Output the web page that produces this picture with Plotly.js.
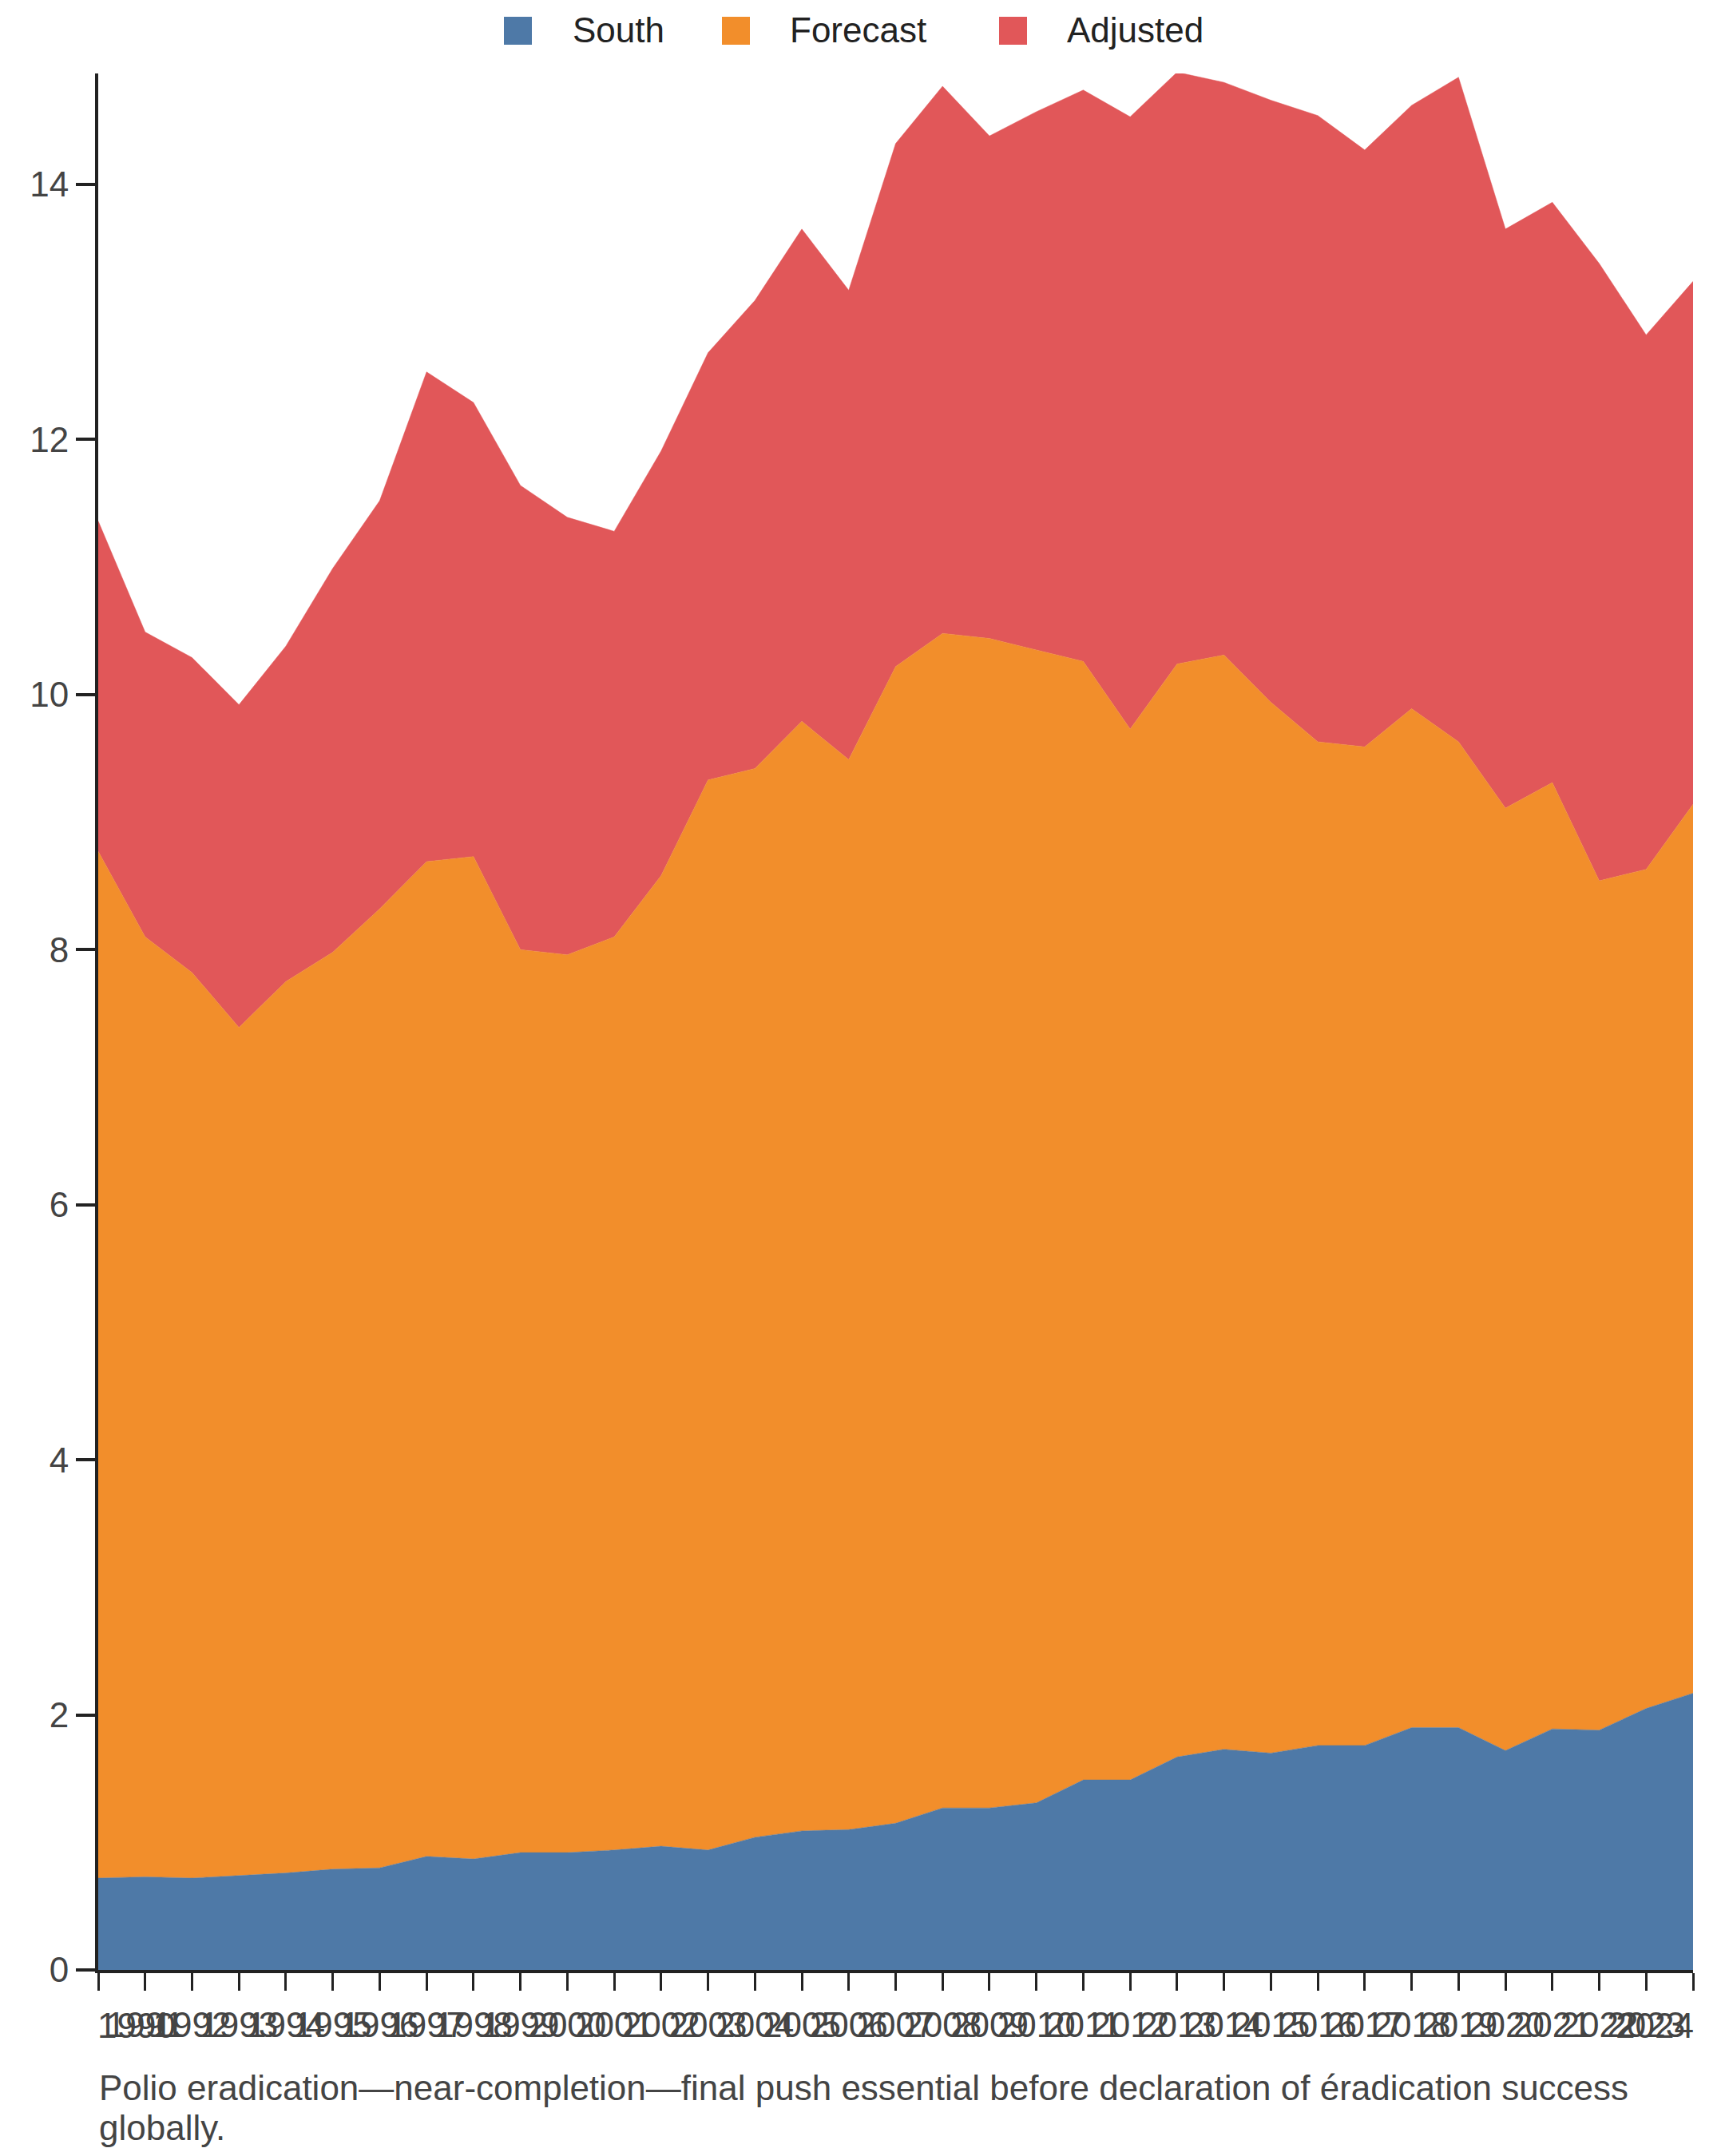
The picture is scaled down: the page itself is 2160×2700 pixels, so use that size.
<!DOCTYPE html>
<html>
<head>
<meta charset="utf-8">
<script src="https://cdn.plot.ly/plotly-3.0.1.min.js"></script>
<style>
  html, body { margin: 0; padding: 0; background: #fff; }
  #chart { width: 2160px; height: 2700px; }
</style>
</head>
<body>
<div id="chart"></div>
<script>
var years = [1990,1991,1992,1993,1994,1995,1996,1997,1998,1999,2000,2001,2002,2003,2004,2005,2006,2007,2008,2009,2010,2011,2012,2013,2014,2015,2016,2017,2018,2019,2020,2021,2022,2023,2024];

var south = [0.72,0.73,0.72,0.74,0.76,0.79,0.80,0.89,0.87,0.92,0.92,0.94,0.97,0.94,1.04,1.09,1.10,1.15,1.27,1.27,1.31,1.49,1.49,1.67,1.73,1.70,1.76,1.76,1.90,1.90,1.72,1.89,1.88,2.05,2.17];

var forecast = [8.05,7.37,7.10,6.65,6.99,7.19,7.52,7.80,7.86,7.08,7.04,7.16,7.61,8.39,8.38,8.70,8.39,9.07,9.21,9.17,9.04,8.77,8.24,8.57,8.58,8.24,7.87,7.83,7.99,7.73,7.39,7.42,6.66,6.58,6.97];

var adjusted = [2.59,2.39,2.47,2.53,2.63,3.01,3.20,3.84,3.56,3.64,3.43,3.18,3.33,3.35,3.67,3.86,3.68,4.10,4.29,3.94,4.22,4.48,4.80,4.64,4.49,4.72,4.91,4.68,4.73,5.21,4.54,4.55,4.84,4.19,4.10];

var seriesNames = ['South', 'Forecast', 'Adjusted'];
var seriesColors = ['#4e79a7', '#f28e2b', '#e15759'];

var captionLines = [
    'Polio eradication\u2014near-completion\u2014final push essential before declaration of \u00e9radication success',
    'globally.'
];

var W = 2160, H = 2700;
var M = {l: 123, r: 40, t: 92, b: 233};
var plotW = W - M.l - M.r, plotH = H - M.t - M.b;

// pixel -> paper helpers for the hand-made legend and caption
function px(x) { return (x - M.l) / plotW; }
function py(y) { return (H - M.b - y) / plotH; }

var values = [south, forecast, adjusted];
var data = values.map(function (v, i) {
    return {
        x: years,
        y: v,
        name: seriesNames[i],
        type: 'scatter',
        mode: 'lines',
        stackgroup: 'one',
        line: {width: 0.5, color: seriesColors[i]},
        fillcolor: seriesColors[i],
        showlegend: false
    };
});

// x labels: ends are drawn flush with the axis ends
var tickText = years.map(function (y, i) {
    return (i === 0 || i === years.length - 1) ? '' : String(y);
});

var font = 'Liberation Sans, Arial, sans-serif';
var shapes = [];
var annotations = [];

var swatchLeft = [631, 904, 1251];
var labelLeft = [718, 990, 1337];
seriesNames.forEach(function (name, i) {
    shapes.push({
        type: 'rect', xref: 'paper', yref: 'paper',
        x0: px(swatchLeft[i]), x1: px(swatchLeft[i] + 35),
        y0: py(56), y1: py(21),
        fillcolor: seriesColors[i], line: {width: 0}
    });
    annotations.push({
        text: name, xref: 'paper', yref: 'paper',
        x: px(labelLeft[i] - 3), y: py(38),
        xanchor: 'left', yanchor: 'middle',
        showarrow: false,
        font: {size: 44, color: '#222'}
    });
});

[0, years.length - 1].forEach(function (i) {
    annotations.push({
        text: String(years[i]), xref: 'x', yref: 'paper',
        x: years[i], y: py(2536),
        xanchor: i === 0 ? 'left' : 'right', yanchor: 'middle',
        xshift: i === 0 ? -3 : 3,
        showarrow: false,
        font: {size: 44, color: '#444'}
    });
});

captionLines.forEach(function (line, i) {
    annotations.push({
        text: line, xref: 'paper', yref: 'paper',
        x: px(122), y: py(2614 + 50 * i),
        xanchor: 'left', yanchor: 'middle',
        showarrow: false,
        font: {size: 44, color: '#444'}
    });
});

var layout = {
    width: W,
    height: H,
    paper_bgcolor: '#fff',
    plot_bgcolor: '#fff',
    margin: M,
    font: {family: font, size: 44, color: '#444'},
    showlegend: false,
    xaxis: {
        range: [1990, 2024],
        tickmode: 'array',
        tickvals: years,
        ticktext: tickText,
        tickangle: 0,
        ticks: 'outside',
        ticklen: 22,
        tickwidth: 3,
        tickcolor: '#222',
        ticklabelstandoff: 5,
        ticklabeloverflow: 'allow',
        showline: true,
        linecolor: '#222',
        linewidth: 4,
        showgrid: false,
        zeroline: false,
        tickfont: {size: 44, color: '#444'}
    },
    yaxis: {
        range: [0, 14.87],
        tickmode: 'linear',
        tick0: 0,
        dtick: 2,
        ticks: 'outside',
        ticklen: 24,
        tickwidth: 4,
        tickcolor: '#222',
        showline: true,
        linecolor: '#222',
        linewidth: 4,
        showgrid: false,
        zeroline: false,
        tickfont: {size: 44, color: '#444'}
    },
    shapes: shapes,
    annotations: annotations
};

Plotly.newPlot('chart', data, layout, {displayModeBar: false, responsive: false});
</script>
</body>
</html>
